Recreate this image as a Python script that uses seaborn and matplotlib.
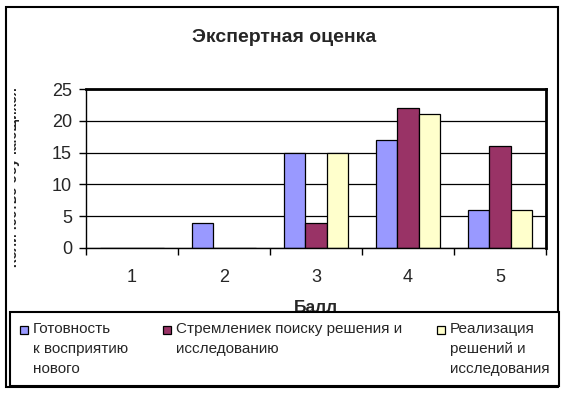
import numpy as np
import pandas as pd
import matplotlib.pyplot as plt
import seaborn as sns
from matplotlib.patches import Rectangle
from matplotlib.legend_handler import HandlerPatch
from matplotlib.transforms import Bbox

# Chart data
scores = ["1", "2", "3", "4", "5"]
series = [
    "Готовность\nк восприятию\nнового",
    "Стремлениек поиску решения и\nисследованию\n",
    "Реализация\nрешений и\nисследования",
]
readiness = [0, 4, 15, 17, 6]
striving = [0, 0, 4, 22, 16]
realization = [0, 0, 15, 21, 6]
colors = ["#9999FF", "#993366", "#FFFFCC"]

df = pd.DataFrame({
    "score": scores * 3,
    "series": [series[0]] * 5 + [series[1]] * 5 + [series[2]] * 5,
    "value": readiness + striving + realization,
})

sns.set_style("white")
plt.rcParams["font.family"] = ["Liberation Sans", "DejaVu Sans"]

W, H = 566, 393
fig = plt.figure(figsize=(W / 100, H / 100), dpi=100)
ax = fig.add_axes([86 / W, 1 - 248 / H, 460 / W, 159 / H])

sns.barplot(data=df, x="score", y="value", hue="series", order=scores,
            hue_order=series, palette=colors, saturation=1, width=0.685,
            edgecolor="black", linewidth=0.9, ax=ax)

handles, labels = ax.get_legend_handles_labels()
ax.get_legend().remove()

# axes styling
ax.set_ylim(0, 25)
ax.set_yticks(range(0, 26, 5))
ax.set_xlim(-0.5, 4.5)
ax.set_xticks(np.arange(-0.5, 5, 1), minor=True)
ax.yaxis.grid(True, color="black", linewidth=0.9)
ax.set_axisbelow(True)
for side in ["left", "bottom"]:
    ax.spines[side].set_color("black")
    ax.spines[side].set_linewidth(1.0)
for side in ["top", "right"]:
    ax.spines[side].set_color("black")
    ax.spines[side].set_linewidth(2.0)

ax.tick_params(axis="x", which="major", length=0, pad=15, labelsize=13)
ax.tick_params(axis="x", which="minor", bottom=True, length=5, width=1,
               color="black", direction="out")
ax.tick_params(axis="y", left=True, length=5, width=1, color="black",
               direction="out", pad=5, labelsize=13)

ax.set_xlabel("Балл", fontsize=12.5, fontweight="bold", va="center")
ax.xaxis.set_label_coords(0.5, -59 / 159)
ax.set_ylabel("")

fig.text(0.502, 1 - 38 / H, "Экспертная оценка", ha="center", va="center",
         fontsize=14, fontweight="bold")

# y label, cut off by the chart border as in the original
ylab = fig.text(13 / W, 1 - 177 / H, "Количество обучающихся", rotation=90,
                ha="center", va="center", fontsize=10, fontweight="bold")
ylab.set_clip_box(Bbox([[14, 0], [W, H]]))
ylab.set_clip_on(True)

LEG_FS = 11
LS = 1.58


def top_square(legend, orig_handle, xdescent, ydescent, width, height, fontsize):
    s = 0.55 * fontsize
    y0 = LS * 0.9 * fontsize - 0.08 * fontsize
    return Rectangle((-xdescent, y0), s, s)


leg = fig.legend(handles, labels, loc="upper left",
                 bbox_to_anchor=(10 / W, 6 / H, 549 / W, 75 / H),
                 mode="expand", ncol=3, fontsize=LEG_FS, frameon=True,
                 fancybox=False, framealpha=1, edgecolor="black",
                 handlelength=0.55, handleheight=0.7, handletextpad=0.3,
                 borderpad=0.63, borderaxespad=0,
                 handler_map={h: HandlerPatch(patch_func=top_square) for h in handles})
leg.get_frame().set_linewidth(1.5)
for t in leg.get_texts():
    t.set_linespacing(LS)
for h in leg.legend_handles:
    h.set_edgecolor("black")
    h.set_linewidth(0.9)

# outer chart border
fig.add_artist(Rectangle((6 / W, 6 / H), 552 / W, 380 / H,
                         transform=fig.transFigure, fill=False,
                         edgecolor="black", linewidth=1.5))

fig.savefig("out.png", dpi=100)
